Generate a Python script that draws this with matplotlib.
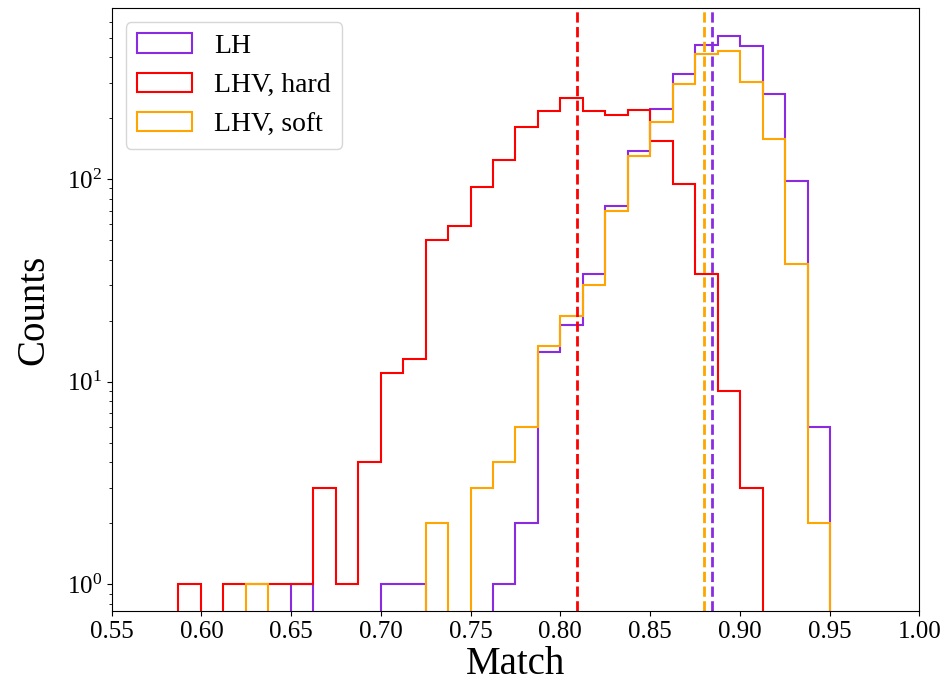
import numpy as np
import matplotlib
matplotlib.use("Agg")
import matplotlib.pyplot as plt

# shared bin edges (29 bins)
edges = np.linspace(0.5871, 0.9504, 30)

# counts per bin
lh_counts = [0, 0, 0, 0, 0, 1, 0, 0, 0, 1, 1, 0, 0, 0, 1, 2, 14, 19, 34, 74,
             137, 221, 332, 459, 508, 453, 264, 98, 6]
hard_counts = [1, 0, 1, 1, 1, 1, 3, 1, 4, 11, 13, 50, 59, 92, 125, 182, 218, 251, 218, 207,
               220, 155, 95, 34, 9, 3, 0, 0, 0]
soft_counts = [0, 0, 0, 1, 0, 0, 0, 0, 0, 0, 0, 2, 0, 3, 4, 6, 15, 21, 30, 70,
               130, 191, 295, 416, 430, 301, 158, 38, 2]

# dashed reference lines
lh_line = 0.8846
hard_line = 0.8092
soft_line = 0.8802

labels = ['LH', 'LHV, hard', 'LHV, soft']
colors = ['blueviolet', 'red', 'orange']

plt.rcParams['font.family'] = ['Liberation Serif', 'DejaVu Serif']
plt.rcParams['mathtext.fontset'] = 'stix'

fig = plt.figure(figsize=(9.48, 6.87), dpi=100)
ax = fig.add_axes([0.1178, 0.1106, 0.8519, 0.8772])

centers = 0.5 * (edges[:-1] + edges[1:])
for counts, lab, col in zip([lh_counts, hard_counts, soft_counts], labels, colors):
    ax.hist(centers, bins=edges, weights=counts, histtype='step', log=True,
            color=col, lw=1.5, label=lab)

for xv, col in zip([lh_line, hard_line, soft_line], colors):
    ax.axvline(xv, color=col, ls='--', lw=2)

ax.set_xlim(0.55, 1.00)
ax.set_ylim(0.738, 697)
ax.set_xticks(np.arange(0.55, 1.001, 0.05))
ax.set_xticklabels([f"{v:.2f}" for v in np.arange(0.55, 1.001, 0.05)])
ax.tick_params(axis='both', which='major', labelsize=18)

ax.set_xlabel('Match', fontsize=28, labelpad=2)
ax.set_ylabel('Counts', fontsize=28, labelpad=10)

ax.legend(loc='upper left', fontsize=20)

fig.savefig('out.png', dpi=100)
